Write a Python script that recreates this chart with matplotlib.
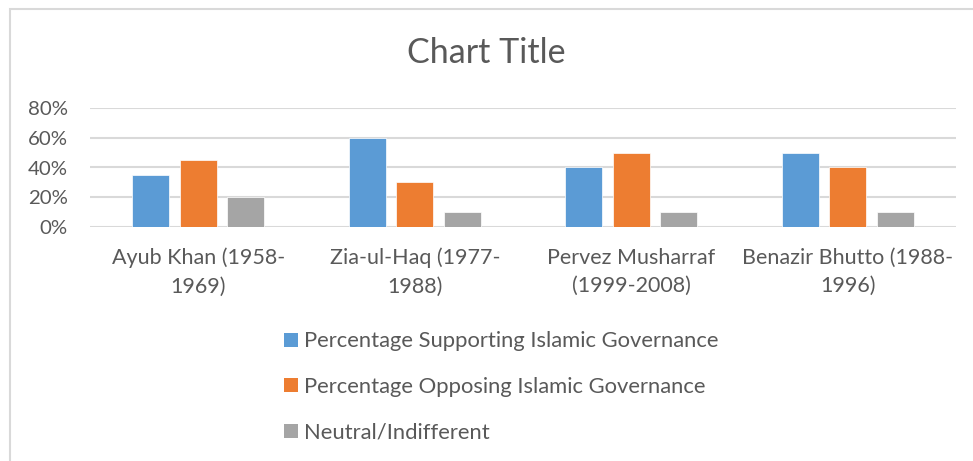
import matplotlib
matplotlib.use("Agg")
import matplotlib.pyplot as plt
from matplotlib.patches import Patch, Rectangle
import numpy as np

categories = ["Ayub Khan (1958-\n1969)", "Zia-ul-Haq (1977-\n1988)",
              "Pervez Musharraf\n(1999-2008)", "Benazir Bhutto (1988-\n1996)"]
series_names = ["Percentage Supporting Islamic Governance",
                "Percentage Opposing Islamic Governance",
                "Neutral/Indifferent"]
supporting = [0.35, 0.60, 0.40, 0.50]
opposing = [0.45, 0.30, 0.50, 0.40]
neutral = [0.20, 0.10, 0.10, 0.10]
yticks = [0, 0.2, 0.4, 0.6, 0.8]
ytick_labels = ["0%", "20%", "40%", "60%", "80%"]

colors = ["#5B9BD5", "#ED7D31", "#A5A5A5"]
text_color = "#595959"
grid_color = "#D9D9D9"

plt.rcParams['font.family'] = ['Lato', 'DejaVu Sans']

W, H = 973, 461
fig = plt.figure(figsize=(W / 100, H / 100), dpi=100)
fig.patch.set_facecolor("white")

# chart border
fig.patches.append(Rectangle((9.5 / W, -0.1), 1.2, 1 - 9.5 / H + 0.1,
                             transform=fig.transFigure, fill=False,
                             edgecolor=grid_color, linewidth=1.5))

ax = fig.add_axes([90 / W, 1 - 227 / H, (956 - 90) / W, (227 - 108) / H])
x = np.arange(len(categories))
bw = 0.171
step = 0.219
for i, (vals, c) in enumerate(zip([supporting, opposing, neutral], colors)):
    ax.bar(x + (i - 1) * step, vals, width=bw, color=c, edgecolor="white",
           linewidth=0.5, zorder=3)

ax.set_xlim(-0.5, len(categories) - 0.5)
ax.set_ylim(0, 0.8)
ax.set_yticks(yticks)
ax.set_yticklabels(ytick_labels)
ax.set_xticks(x)
ax.set_xticklabels(categories)
for s in ax.spines.values():
    s.set_visible(False)
ax.grid(axis="y", color=grid_color, linewidth=1.5, zorder=0)
ax.set_axisbelow(True)
ax.tick_params(axis="y", length=0, colors=text_color, labelsize=14.7, pad=16)
ax.tick_params(axis="x", length=0, colors=text_color, labelsize=15.5, pad=15)
for lbl in ax.get_xticklabels():
    lbl.set_linespacing(1.5)

fig.text(0.5, 1 - 53 / H, "Chart Title", ha="center", va="center",
         fontsize=24.5, color=text_color)

handles = [Patch(facecolor=c, edgecolor="none") for c in colors]
leg = fig.legend(handles, series_names, loc="upper left",
                 bbox_to_anchor=(280 / W, 1 - 327 / H), frameon=False,
                 fontsize=15.8, labelcolor=text_color, handlelength=0.6,
                 handleheight=0.6, handletextpad=0.3, labelspacing=1.17,
                 borderpad=0.2, borderaxespad=0)

fig.savefig("out.png", dpi=100, facecolor="white")
